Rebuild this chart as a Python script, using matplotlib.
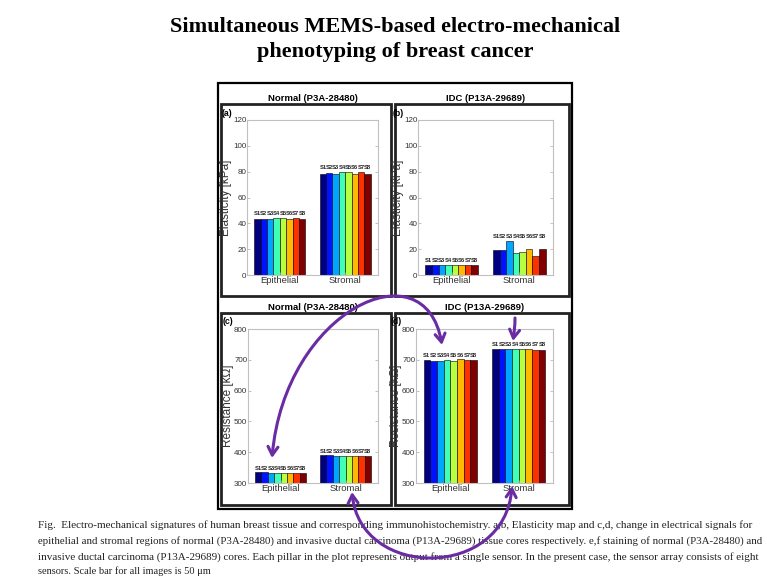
import matplotlib
matplotlib.use("Agg")
import matplotlib.pyplot as plt
from matplotlib.patches import Rectangle, FancyArrowPatch
from matplotlib.path import Path
import numpy as np

W, H = 767, 577

groups = ["Epithelial", "Stromal"]
sensors = ["S1", "S2", "S3", "S4", "S5", "S6", "S7", "S8"]

# elasticity [kPa]
normal_elast_epi = [43, 43.5, 43, 44.5, 44, 43, 44.5, 43]
normal_elast_str = [78, 79, 78.5, 80, 79.5, 78, 80, 78]
idc_elast_epi = [7.5, 7.5, 7.5, 7.5, 7.5, 7.5, 7.5, 7.5]
idc_elast_str = [19, 19, 26, 17, 18, 20.5, 15, 20]

# resistance [kOhm]
normal_res_epi = [335, 335, 333, 333, 333, 333, 332, 332]
normal_res_str = [390, 390, 388, 388, 388, 388, 387, 387]
idc_res_epi = [698, 695, 697, 700, 695, 701, 700, 700]
idc_res_str = [736, 736, 735, 734, 734, 734, 733, 733]

colors = plt.cm.jet(np.linspace(0, 1, 8))
purple = "#6a2ca3"


def px(x0, y0, x1, y1):
    return [x0 / W, 1 - y1 / H, (x1 - x0) / W, (y1 - y0) / H]


plt.rcParams["font.family"] = ["Liberation Sans", "DejaVu Sans"]

fig = plt.figure(figsize=(W / 100, H / 100), dpi=100)
fig.patch.set_facecolor("white")

# overlay in pixel coordinates for the frames
ov = fig.add_axes([0, 0, 1, 1], zorder=0)
ov.set_xlim(0, W)
ov.set_ylim(H, 0)
ov.axis("off")

ov.add_patch(Rectangle((218, 83), 354, 426, fill=False, ec="black", lw=1.6))
for (x0, y0, x1, y1) in [(221, 104, 391, 296), (395, 104, 569, 296),
                         (221, 313, 391, 505), (395, 313, 569, 505)]:
    ov.add_patch(Rectangle((x0, y0), x1 - x0, y1 - y0, fill=False,
                           ec="#222222", lw=2.0))


def panel(rect, epi, stro, ylim, yticks, ylabel, title, tag, off):
    ax = fig.add_axes(px(*rect), zorder=2)
    w = rect[2] - rect[0]
    h = rect[3] - rect[1]
    n = len(sensors)
    gw = 0.78
    bw = gw / n
    for gi, vals in enumerate([epi, stro]):
        xs = gi + 1 - gw / 2 + bw / 2 + np.arange(n) * bw
        ax.bar(xs, vals, width=bw, color=colors, edgecolor="black", lw=0.4)
        top = max(vals) + off
        for x, s in zip(xs, sensors):
            ax.text(x, top, s, ha="center", va="bottom", fontsize=4.2,
                    fontweight="bold", color="#222222")
    ax.set_xlim(0.5, 2.5)
    ax.set_ylim(*ylim)
    ax.set_yticks(yticks)
    ax.set_xticks([1, 2])
    ax.set_xticklabels(groups)
    ax.tick_params(direction="in", length=2, width=0.5, colors="#aaaaaa",
                   labelcolor="#333333", right=True, top=False)
    ax.tick_params(axis="x", labelsize=6.8, pad=1)
    ax.tick_params(axis="y", labelsize=5.8, pad=0.5)
    for sp in ax.spines.values():
        sp.set_color("#c0c0c0")
        sp.set_linewidth(0.8)
    ax.set_ylabel(ylabel, fontsize=8.5, color="#333333")
    ax.yaxis.set_label_coords(-14.5 / w, 0.5)
    ax.set_title(title, fontsize=6.8, fontweight="bold", pad=14)
    ax.text(-20 / w, 1 + 7 / h, tag, transform=ax.transAxes,
            fontsize=6.3, fontweight="bold", ha="center", va="center")
    return ax


panel((247, 120, 378, 275), normal_elast_epi, normal_elast_str, (0, 120),
      range(0, 121, 20), "Elasticity [kPa]", "Normal (P3A-28480)", "(a)", 1.5)
panel((418, 120, 553, 275), idc_elast_epi, idc_elast_str, (0, 120),
      range(0, 121, 20), "Elasticity [kPa]", "IDC (P13A-29689)", "(b)", 1.5)
panel((248, 329, 378, 483), normal_res_epi, normal_res_str, (300, 800),
      range(300, 801, 100), "Resistance [kΩ]", "Normal (P3A-28480)", "(c)", 5)
panel((416, 329, 553, 483), idc_res_epi, idc_res_str, (300, 800),
      range(300, 801, 100), "Resistance [kΩ]", "IDC (P13A-29689)", "(d)", 5)

# hand-drawn purple arrows
top = fig.add_axes([0, 0, 1, 1], zorder=5)
top.set_xlim(0, W)
top.set_ylim(H, 0)
top.axis("off")
curves = [
    [(272, 458), (285, 310), (425, 245), (442, 345)],
    [(352, 492), (360, 580), (505, 580), (512, 486)],
    [(515, 318), (515, 326), (514, 334), (513, 341)],
]
styles = ["<->", "<->", "->"]
for pts, st in zip(curves, styles):
    path = Path(pts, [Path.MOVETO, Path.CURVE4, Path.CURVE4, Path.CURVE4])
    top.add_patch(FancyArrowPatch(path=path, arrowstyle=st + ",head_length=5,head_width=3",
                                  color=purple, lw=2.2, mutation_scale=1.2))

# title
fig.text(395 / W, 1 - 27 / H, "Simultaneous MEMS-based electro-mechanical",
         ha="center", va="center", fontsize=16, fontweight="bold",
         family="Liberation Serif")
fig.text(395 / W, 1 - 52 / H, "phenotyping of breast cancer",
         ha="center", va="center", fontsize=16, fontweight="bold",
         family="Liberation Serif")

caption = [
    "Fig.  Electro-mechanical signatures of human breast tissue and corresponding immunohistochemistry. a,b, Elasticity map and c,d, change in electrical signals for",
    "epithelial and stromal regions of normal (P3A-28480) and invasive ductal carcinoma (P13A-29689) tissue cores respectively. e,f staining of normal (P3A-28480) and",
    "invasive ductal carcinoma (P13A-29689) cores. Each pillar in the plot represents output from a single sensor. In the present case, the sensor array consists of eight",
    "sensors. Scale bar for all images is 50 μm",
]
cap_y = [525, 541, 557, 571]
renderer = fig.canvas.get_renderer()
for i, (line, y) in enumerate(zip(caption, cap_y)):
    t = fig.text(38 / W, 1 - y / H, line, ha="left", va="center", fontsize=7.5,
                 family="Liberation Serif", color="#222222")
    if i < 3:
        tw = t.get_window_extent(renderer).width
        t.set_fontsize(7.5 * 717 / tw)

fig.savefig("out.png", dpi=100)
